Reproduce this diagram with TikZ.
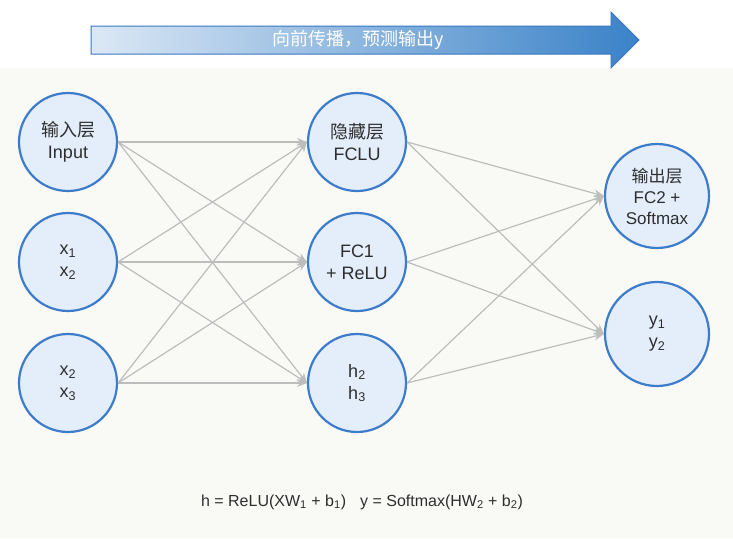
\documentclass[tikz,border=0pt]{standalone}
\usepackage{fontspec}
\setmainfont{Liberation Sans}
\newfontfamily\cjk{Noto Sans CJK SC}
\usetikzlibrary{arrows.meta}
\definecolor{bgcol}{HTML}{F9F9F6}
\definecolor{ringblue}{HTML}{3D7CCB}
\definecolor{fillblue}{HTML}{E4EEFA}
\definecolor{edgegray}{HTML}{BDBDBD}
\definecolor{txt}{HTML}{2E2E2E}
\definecolor{arrowlight}{HTML}{DCE8F5}
\definecolor{arrowdark}{HTML}{3A82C8}
\definecolor{arrowborder}{HTML}{3A78C0}
\tikzset{
  neuron/.style={circle, draw=ringblue, line width=2.2pt, fill=fillblue,
    inner sep=0pt, minimum size=#1, align=center, text=txt,
    font=\fontsize{18}{22}\selectfont},
  neuron/.default=98pt,
  conn/.style={draw=edgegray, line width=1.2pt, -{Stealth[length=10pt,width=8pt]}},
  bannertext/.style={text=white, font=\cjk\fontsize{18}{21}\selectfont, inner sep=0pt},
  formula/.style={text=txt, font=\fontsize{16}{19}\selectfont, inner sep=0pt},
}
\begin{document}
\begin{tikzpicture}[x=1pt,y=-1pt]
\useasboundingbox (0,0) rectangle (733,538);
\fill[white] (0,0) rectangle (733,538);
\fill[bgcol] (0,68) rectangle (733,538);
% top arrow
\shade[left color=arrowlight, right color=arrowdark, draw=arrowborder, line width=1pt]
  (91,26) -- (611,26) -- (611,12) -- (639,40) -- (611,68) -- (611,54) -- (91,54) -- cycle;
\node[bannertext] (banner) at (358,40) {向前传播，预测输出y};
% input layer
\node[neuron] (i1) at (68,142) {{\cjk 输入层}\\Input};
\node[neuron] (i2) at (68,262) {x\textsubscript{1}\\x\textsubscript{2}};
\node[neuron] (i3) at (68,383) {x\textsubscript{2}\\x\textsubscript{3}};
% hidden layer
\node[neuron] (h1) at (357,142) {{\cjk 隐藏层}\\FCLU};
\node[neuron] (h2) at (357,262) {FC1\\+ ReLU};
\node[neuron] (h3) at (357,383) {h\textsubscript{2}\\h\textsubscript{3}};
% output layer
\node[neuron=104pt, font=\fontsize{17}{21}\selectfont] (o1) at (657,196) {{\cjk 输出层}\\FC2 +\\Softmax};
\node[neuron=104pt] (o2) at (657,334) {y\textsubscript{1}\\y\textsubscript{2}};
% connections
\foreach \a in {i1,i2,i3}{
  \foreach \b in {h1,h2,h3}{
    \draw[conn] (\a.east) -- (\b.west);
  }
}
\foreach \a in {h1,h2,h3}{
  \foreach \b in {o1,o2}{
    \draw[conn] (\a.east) -- (\b.west);
  }
}
% formula
\node[formula] (eq) at (362,502) {h = ReLU(XW\textsubscript{1} + b\textsubscript{1})\hspace{14pt}y = Softmax(HW\textsubscript{2} + b\textsubscript{2})};
\end{tikzpicture}
\end{document}
